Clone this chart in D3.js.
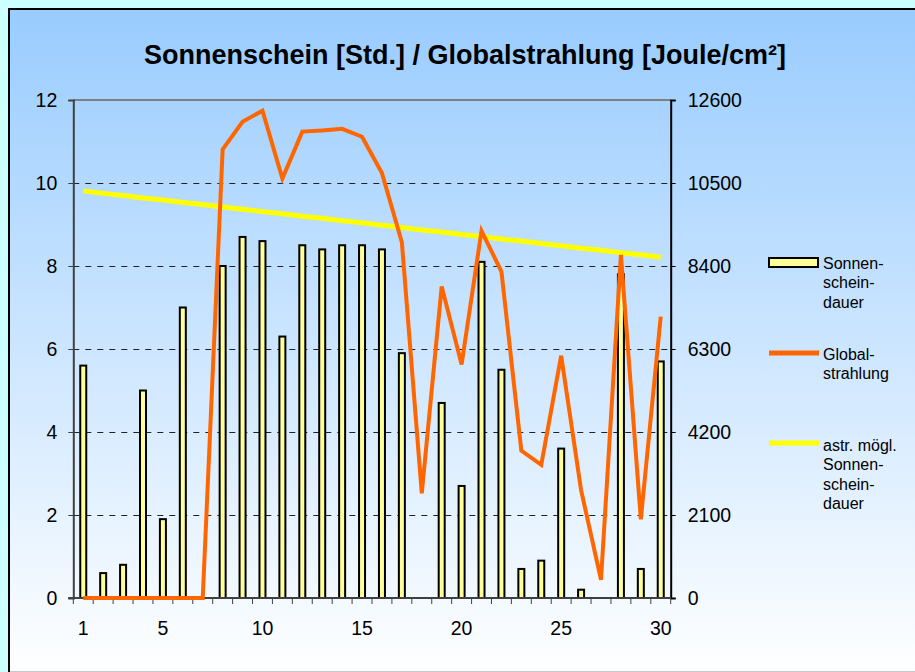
<!DOCTYPE html>
<html>
<head>
<meta charset="utf-8">
<title>Sonnenschein / Globalstrahlung</title>
<script src="https://cdn.jsdelivr.net/npm/d3@7"></script>
<style>
html, body {
  margin: 0;
  padding: 0;
  background: #ccffff;
}
svg {
  display: block;
  font-family: Arial, "Liberation Sans", sans-serif;
}
.lbl {
  font-size: 19.5px;
  fill: #000;
}
.leg {
  font-size: 16px;
  fill: #000;
}
</style>
</head>
<body>
<svg id="chart" width="915" height="672"></svg>
<script>

// days of the month
var days = d3.range(1, 31);

// Sonnenscheindauer [Std.]
var sonnenschein = [5.6, 0.6, 0.8, 5.0, 1.9, 7.0, 0, 8.0, 8.7, 8.6,
                    6.3, 8.5, 8.4, 8.5, 8.5, 8.4, 5.9, 0, 4.7, 2.7,
                    8.1, 5.5, 0.7, 0.9, 3.6, 0.2, 0, 7.8, 0.7, 5.7];

// Globalstrahlung [Joule/cm²]
var globalstrahlung = [0, 0, 0, 0, 0, 0, 0, 11350, 12050, 12330,
                       10610, 11800, 11830, 11870, 11670, 10750, 9000, 2650, 7880, 5910,
                       9290, 8260, 3730, 3370, 6130, 2730, 460, 8680, 1990, 7120];

// astronomisch mögliche Sonnenscheindauer [Std.]
var astrMoegl = [9.81, 9.75, 9.70, 9.64, 9.59, 9.53, 9.48, 9.42, 9.37, 9.31,
                 9.26, 9.20, 9.15, 9.09, 9.04, 8.98, 8.93, 8.87, 8.82, 8.76,
                 8.71, 8.65, 8.60, 8.54, 8.49, 8.43, 8.38, 8.32, 8.27, 8.21];

var leftTicks = [0, 2, 4, 6, 8, 10, 12];
var rightTicks = [0, 2100, 4200, 6300, 8400, 10500, 12600];
var xLabels = [1, 5, 10, 15, 20, 25, 30];

var svg = d3.select("#chart");

var pLeft = 73.3, pRight = 670.7, pTop = 100, pBottom = 598;

// background gradient
var defs = svg.append("defs");
var grad = defs.append("linearGradient")
    .attr("id", "bg")
    .attr("x1", 0).attr("y1", 0).attr("x2", 0).attr("y2", 1);
grad.append("stop").attr("offset", "0%").attr("stop-color", "#99ccff");
grad.append("stop").attr("offset", "100%").attr("stop-color", "#ffffff");

svg.append("rect")
    .attr("x", 9).attr("y", 9)
    .attr("width", 920).attr("height", 668)
    .attr("fill", "url(#bg)")
    .attr("stroke", "#000")
    .attr("stroke-width", 2);
svg.append("line")
    .attr("x1", 10).attr("x2", 915).attr("y1", 671.5).attr("y2", 671.5)
    .attr("stroke", "#c8c8c8").attr("stroke-width", 1);

// title
svg.append("text")
    .attr("x", 465).attr("y", 64)
    .attr("text-anchor", "middle")
    .style("font-size", "27px")
    .style("font-weight", "bold")
    .text("Sonnenschein [Std.] / Globalstrahlung [Joule/cm²]");

var x = d3.scaleBand().domain(days).range([pLeft, pRight]);
var yL = d3.scaleLinear().domain([0, 12]).range([pBottom, pTop]);
var yR = d3.scaleLinear().domain([0, 12600]).range([pBottom, pTop]);

// gridlines
svg.append("g").selectAll("line")
    .data(leftTicks.filter(function(d) { return d > 0 && d < 12; }))
    .enter().append("line")
      .attr("x1", pLeft).attr("x2", pRight)
      .attr("y1", function(d) { return Math.round(yL(d)) + 0.5; })
      .attr("y2", function(d) { return Math.round(yL(d)) + 0.5; })
      .attr("stroke", "#222")
      .attr("stroke-width", 1)
      .attr("stroke-dasharray", "6,6");

// top border of plot area
svg.append("line")
    .attr("x1", pLeft).attr("x2", pRight)
    .attr("y1", pTop).attr("y2", pTop)
    .attr("stroke", "#808080").attr("stroke-width", 2);

// left axis
var axL = svg.append("g")
    .attr("transform", "translate(" + pLeft + ",0)")
    .call(d3.axisLeft(yL).tickValues(leftTicks).tickSize(5).tickPadding(11));
axL.select(".domain").attr("stroke", "#404040").attr("stroke-width", 2);
axL.selectAll(".tick line").attr("stroke", "#404040");
axL.selectAll(".tick text").attr("class", "lbl").attr("font-family", null).attr("font-size", null).attr("fill", null);
axL.attr("font-family", null).attr("font-size", null);

// right axis
var axR = svg.append("g")
    .attr("transform", "translate(" + pRight + ",0)")
    .call(d3.axisRight(yR).tickValues(rightTicks).tickSize(5).tickPadding(12).tickFormat(d3.format("d")));
axR.select(".domain").attr("stroke", "#000").attr("stroke-width", 2);
axR.selectAll(".tick text").attr("class", "lbl").attr("font-family", null).attr("font-size", null).attr("fill", null);
axR.attr("font-family", null).attr("font-size", null);

// bars
var barW = 6;
svg.append("g").selectAll("rect")
    .data(days.map(function(d, i) { return {day: d, v: sonnenschein[i]}; }).filter(function(d) { return d.v > 0; }))
    .enter().append("rect")
      .attr("x", function(d) { return x(d.day) + x.bandwidth() / 2 - barW / 2; })
      .attr("y", function(d) { return yL(d.v); })
      .attr("width", barW)
      .attr("height", function(d) { return pBottom - yL(d.v); })
      .attr("fill", "#ffff99")
      .attr("stroke", "#000")
      .attr("stroke-width", 2);

// x axis
var axX = svg.append("g")
    .attr("transform", "translate(0," + pBottom + ")");
axX.append("line")
    .attr("x1", pLeft - 5).attr("x2", pRight)
    .attr("stroke", "#404040").attr("stroke-width", 2);
axX.selectAll(".xt")
    .data(days.concat([31]))
    .enter().append("line")
      .attr("class", "xt")
      .attr("x1", function(d) { return d <= 30 ? x(d) : pRight; })
      .attr("x2", function(d) { return d <= 30 ? x(d) : pRight; })
      .attr("y1", 0).attr("y2", 6)
      .attr("stroke", "#404040").attr("stroke-width", 1);
axX.selectAll(".xl")
    .data(xLabels)
    .enter().append("text")
      .attr("class", "lbl")
      .attr("x", function(d) { return x(d) + x.bandwidth() / 2; })
      .attr("y", 37)
      .attr("text-anchor", "middle")
      .text(function(d) { return d; });

// astr. mögl. Sonnenscheindauer
var lineAstr = d3.line()
    .x(function(d, i) { return x(days[i]) + x.bandwidth() / 2; })
    .y(function(d) { return yL(d); });
svg.append("path")
    .datum(astrMoegl)
    .attr("d", lineAstr)
    .attr("fill", "none")
    .attr("stroke", "#ffff00")
    .attr("stroke-width", 5);

// Globalstrahlung
var lineGlob = d3.line()
    .x(function(d, i) { return x(days[i]) + x.bandwidth() / 2; })
    .y(function(d) { return yR(d); });
svg.append("path")
    .datum(globalstrahlung)
    .attr("d", lineGlob)
    .attr("fill", "none")
    .attr("stroke", "#ff6600")
    .attr("stroke-width", 4)
    .attr("stroke-linejoin", "miter");

// legend
var leg = svg.append("g");
leg.append("rect")
    .attr("x", 769).attr("y", 258).attr("width", 49).attr("height", 9)
    .attr("fill", "#ffff99").attr("stroke", "#000").attr("stroke-width", 2);
leg.append("line")
    .attr("x1", 769).attr("x2", 819).attr("y1", 353).attr("y2", 353)
    .attr("stroke", "#ff6600").attr("stroke-width", 5);
leg.append("line")
    .attr("x1", 769).attr("x2", 819).attr("y1", 443).attr("y2", 443)
    .attr("stroke", "#ffff00").attr("stroke-width", 5);

var legTexts = [
  {y: 269, lines: ["Sonnen-", "schein-", "dauer"]},
  {y: 360, lines: ["Global-", "strahlung"]},
  {y: 451, lines: ["astr. mögl.", "Sonnen-", "schein-", "dauer"]}
];
legTexts.forEach(function(t) {
  leg.selectAll(null)
    .data(t.lines)
    .enter().append("text")
      .attr("class", "leg")
      .attr("x", 823)
      .attr("y", function(d, i) { return t.y + i * 19.3; })
      .text(function(d) { return d; });
});

</script>
</body>
</html>
